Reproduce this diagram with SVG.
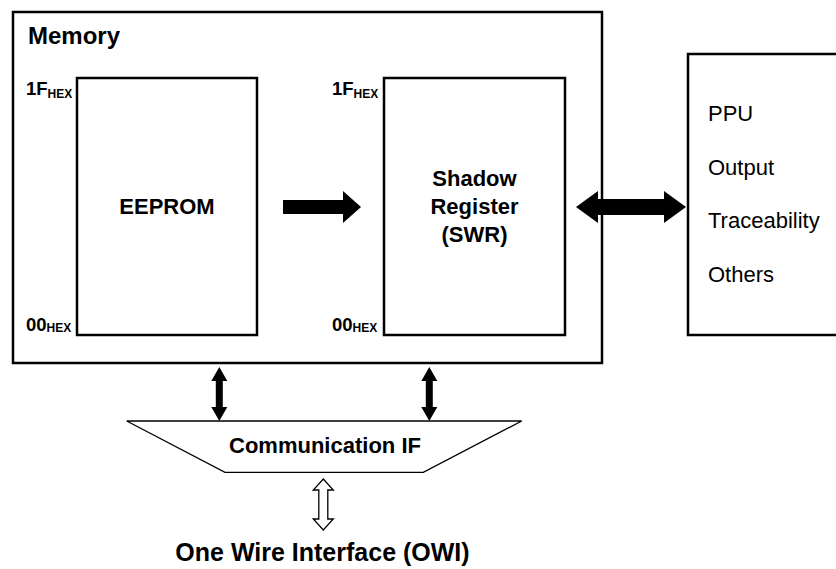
<svg xmlns="http://www.w3.org/2000/svg" width="836" height="569" viewBox="0 0 836 569">
  <style>
    text { font-family: "Liberation Sans", Arial, sans-serif; fill: #000; }
    .b { font-weight: bold; }
    .title { font-size: 24px; }
    .lbl { font-size: 22px; }
    .addr { font-size: 18.5px; font-weight: bold; }
    .sub { font-size: 12px; }
    .item { font-size: 22px; }
    .box { fill: #fff; stroke: #000; stroke-width: 2.5; }
    .thin { fill: #fff; stroke: #000; stroke-width: 1.3; }
    .solid { fill: #000; stroke: none; }
  </style>

  <rect width="836" height="569" fill="#fff"/>

  <!-- Memory container -->
  <g id="memory">
    <rect class="box" x="13" y="12" width="589" height="351"/>
    <text class="b title" x="28" y="44">Memory</text>
  </g>

  <!-- EEPROM block with address range -->
  <g id="eeprom">
    <rect class="box" x="77" y="78" width="180" height="257"/>
    <text class="b lbl" x="167" y="214" text-anchor="middle">EEPROM</text>
    <text class="addr" x="26" y="95">1F<tspan class="sub" dy="2.5">HEX</tspan></text>
    <text class="addr" x="26" y="331">00<tspan class="sub" dy="1">HEX</tspan></text>
  </g>

  <!-- Shadow register block with address range -->
  <g id="shadow-register">
    <rect class="box" x="384" y="78" width="181" height="257"/>
    <text class="b lbl" x="474.5" y="186" text-anchor="middle">Shadow</text>
    <text class="b lbl" x="474.5" y="214" text-anchor="middle">Register</text>
    <text class="b lbl" x="474.5" y="242" text-anchor="middle">(SWR)</text>
    <text class="addr" x="332" y="95">1F<tspan class="sub" dy="2.5">HEX</tspan></text>
    <text class="addr" x="332" y="331">00<tspan class="sub" dy="1">HEX</tspan></text>
  </g>

  <!-- Consumers of the shadow register -->
  <g id="consumers">
    <rect class="box" x="688" y="54" width="200" height="281"/>
    <text class="item" x="708" y="121">PPU</text>
    <text class="item" x="708" y="175">Output</text>
    <text class="item" x="708" y="228">Traceability</text>
    <text class="item" x="708" y="282">Others</text>
  </g>

  <!-- Communication interface -->
  <g id="comm-if">
    <polygon class="thin" points="126.7,421 521.7,421 423.3,472.3 225,472.3"/>
    <text class="b lbl" x="325" y="453" text-anchor="middle">Communication IF</text>
  </g>

  <!-- One wire interface label -->
  <g id="owi">
    <text class="b" font-size="25" x="322.5" y="561" text-anchor="middle">One Wire Interface (OWI)</text>
  </g>

  <!-- Connectors -->
  <g id="connectors">
    <!-- EEPROM to shadow register -->
    <polygon class="solid" points="283,200 343,200 343,191 361,207 343,223 343,214 283,214"/>
    <!-- shadow register to consumers -->
    <polygon class="solid" points="576,207 598,191 598,199 664,199 664,191 686,207 664,223 664,215 598,215 598,223"/>
    <!-- memory to communication IF -->
    <polygon class="solid" points="219.3,367 227.3,381 222.8,381 222.8,407 227.3,407 219.3,421 211.3,407 215.8,407 215.8,381 211.3,381"/>
    <polygon class="solid" points="429.3,367 437.3,381 432.8,381 432.8,407 437.3,407 429.3,421 421.3,407 425.8,407 425.8,381 421.3,381"/>
    <!-- communication IF to one wire interface -->
    <polygon class="thin" points="323.3,479 333.3,490 327.8,490 327.8,519 333.3,519 323.3,530 313.3,519 318.8,519 318.8,490 313.3,490"/>
  </g>
</svg>
